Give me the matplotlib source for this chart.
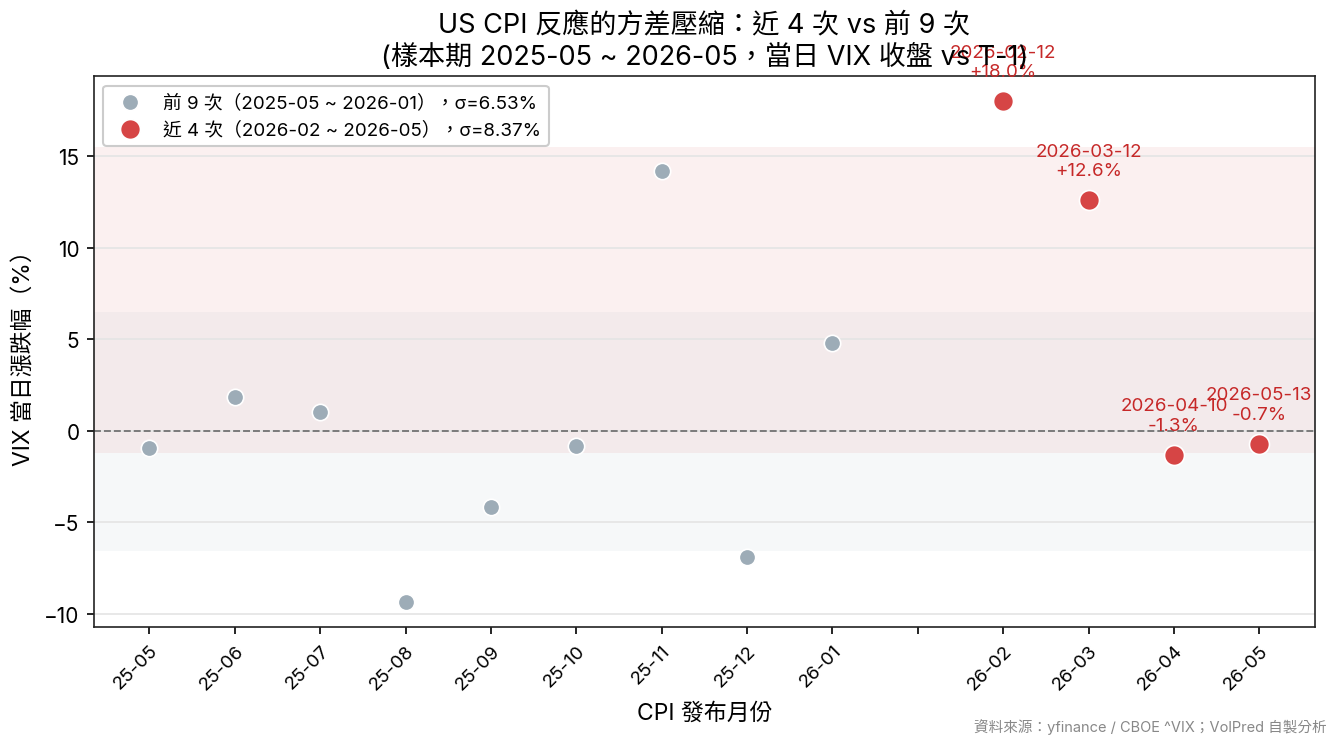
import matplotlib
matplotlib.use("Agg")
import matplotlib.pyplot as plt
import numpy as np

plt.rcParams['font.family'] = ['Inter', 'Noto Sans CJK TC', 'DejaVu Sans']

# data
tick_labels = ['25-05', '25-06', '25-07', '25-08', '25-09', '25-10', '25-11',
               '25-12', '26-01', '', '26-02', '26-03', '26-04', '26-05']
prior_x = [0, 1, 2, 3, 4, 5, 6, 7, 8]
prior_y = [-0.95, 1.85, 1.05, -9.35, -4.15, -0.85, 14.2, -6.9, 4.8]
recent_x = [10, 11, 12, 13]
recent_y = [18.0, 12.6, -1.3, -0.7]
recent_dates = ['2026-02-12', '2026-03-12', '2026-04-10', '2026-05-13']
prior_sigma = 6.53
recent_sigma = 8.37

grey = '#9dacb7'
red = '#d64545'

fig, ax = plt.subplots(figsize=(8.953, 4.993), dpi=150)
fig.subplots_adjust(left=0.07, right=0.979, top=0.897, bottom=0.1615)

pm = np.mean(prior_y)
rm = np.mean(recent_y)
ax.axhspan(pm - prior_sigma, pm + prior_sigma, color='#b0bccb', alpha=0.1, lw=0, zorder=0)
ax.axhspan(rm - recent_sigma, rm + recent_sigma, color='#e8a0a0', alpha=0.15, lw=0, zorder=0)
ax.axhline(0, color='#777777', ls='--', lw=0.9, zorder=1)
ax.grid(axis='y', color='#e4e4e4', lw=0.8, zorder=0)
ax.set_axisbelow(True)

ax.scatter(prior_x, prior_y, s=62, color=grey, edgecolor='white', lw=0.8, zorder=3,
           label=f'前 9 次（2025-05 ~ 2026-01），σ={prior_sigma:.2f}%')
ax.scatter(recent_x, recent_y, s=92, color=red, edgecolor='white', lw=0.8, zorder=3,
           label=f'近 4 次（2026-02 ~ 2026-05），σ={recent_sigma:.2f}%')

for x, y, d in zip(recent_x, recent_y, recent_dates):
    ax.annotate(f'{d}\n{y:+.1f}%', (x, y), xytext=(0, 10), textcoords='offset points',
                ha='center', va='bottom', fontsize=9, color='#c62828')

ax.set_xticks(range(len(tick_labels)))
ax.set_xticklabels(tick_labels, rotation=45, ha='right', fontsize=9, rotation_mode='anchor')
ax.tick_params(axis='y', labelsize=10)
ax.set_xlabel('CPI 發布月份', fontsize=11)
ax.set_ylabel('VIX 當日漲跌幅（%）', fontsize=11)
ax.set_title('US CPI 反應的方差壓縮：近 4 次 vs 前 9 次\n(樣本期 2025-05 ~ 2026-05，當日 VIX 收盤 vs T-1)',
             fontsize=13)
ax.legend(loc='upper left', fontsize=9, framealpha=1, edgecolor='#cccccc')
for s in ax.spines.values():
    s.set_color('#222222')

fig.text(0.988, 0.022, '資料來源：yfinance / CBOE ^VIX；VolPred 自製分析', ha='right',
         fontsize=7, color='#888888')

fig.savefig('out.png', dpi=150)
